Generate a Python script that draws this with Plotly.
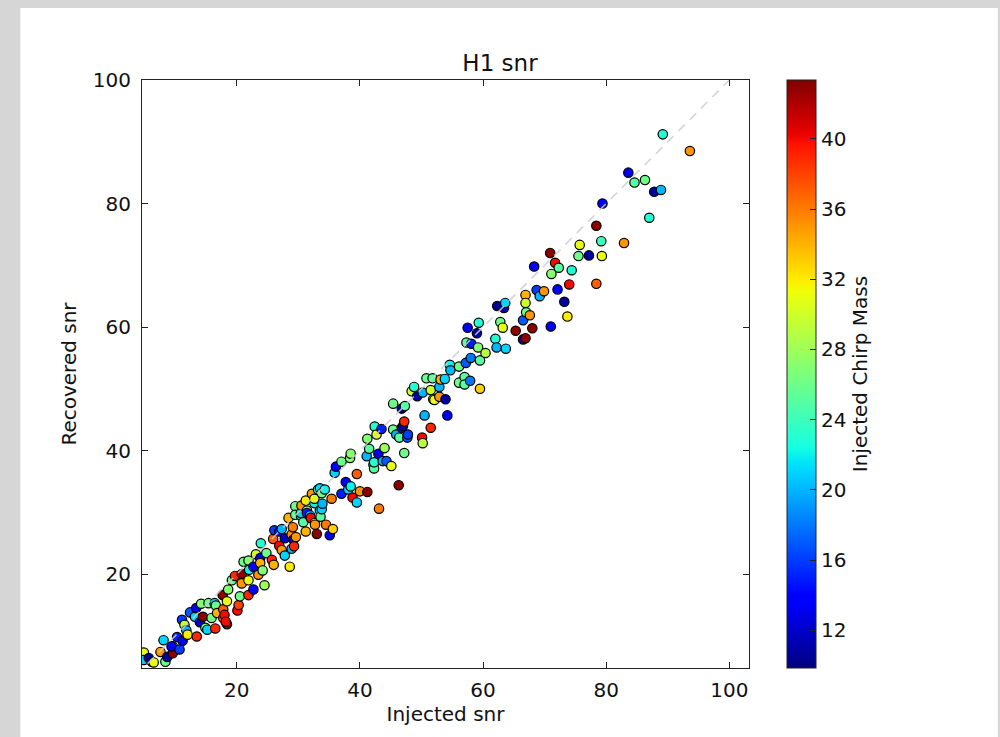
import numpy as np
import plotly.graph_objects as go

# ---- data ----
injected_snr = [
    4.9, 4.9, 5.7, 6.2, 6.5, 7.6, 8.1, 8.4, 8.7, 9.6, 9.6, 9.4, 10.3, 10.7, 11.2, 11.1, 11.5, 11.8, 12.0,
    12.4, 13.2, 13.4, 13.5, 14.0, 14.2, 14.5, 14.9, 15.2, 15.4, 15.9, 16.4, 16.5, 16.6, 16.8, 17.7, 17.8,
    17.8, 18.0, 18.4, 18.2, 18.4, 18.6, 19.2, 19.7, 20.1, 20.3, 20.5, 20.8, 20.8, 21.1, 21.9, 21.9, 21.9,
    22.0, 22.7, 22.7, 23.1, 23.5, 23.8, 23.8, 23.9, 24.2, 24.5, 24.8, 25.7, 25.9, 26.0, 26.1, 26.9, 26.9,
    27.3, 27.3, 27.8, 27.8, 28.4, 28.6, 28.9, 28.9, 29.1, 29.2, 29.3, 29.5, 29.5, 29.6, 30.4, 30.4, 30.5,
    30.8, 31.2, 31.2, 31.4, 31.4, 31.9, 32.0, 32.2, 32.6, 32.6, 32.7, 32.7, 33.0, 33.2, 33.5, 33.5, 33.6,
    33.8, 33.8, 33.9, 34.3, 34.5, 35.1, 35.4, 35.6, 35.9, 36.1, 37.0, 37.0, 37.7, 38.1, 38.4, 38.5, 38.5,
    38.8, 39.5, 39.5, 40.0, 41.1, 41.2, 41.2, 41.5, 42.2, 42.3, 42.3, 42.4, 42.7, 43.0, 43.1, 43.5, 43.7,
    44.0, 44.3, 45.1, 45.4, 45.4, 45.9, 46.3, 46.4, 46.8, 46.8, 47.0, 47.2, 47.2, 47.3, 47.7, 47.8, 48.4,
    48.8, 49.3, 50.1, 50.2, 50.2, 50.5, 50.8, 51.5, 51.5, 51.8, 51.9, 52.1, 52.9, 52.9, 53.1, 53.8, 53.9,
    54.2, 54.6, 54.7, 56.1, 56.1, 57.0, 57.0, 57.2, 57.3, 57.5, 57.9, 58.0, 58.1, 59.0, 59.2, 59.3, 59.5,
    59.5, 60.4, 62.0, 62.2, 62.3, 62.8, 63.2, 63.4, 63.6, 63.7, 65.3, 66.5, 66.5, 66.9, 66.9, 66.9, 67.0,
    67.6, 68.0, 68.3, 68.7, 69.2, 69.9, 70.9, 71.0, 71.1, 71.7, 72.1, 72.3, 73.2, 73.7, 74.0, 74.4, 75.5,
    75.7, 77.2, 78.4, 78.4, 79.2, 79.3, 79.4, 82.9, 83.6, 84.6, 86.3, 87.0, 87.8, 88.9, 89.2, 93.6,
]
recovered_snr = [
    7.3, 6.1, 6.4, 5.8, 5.7, 7.4, 9.3, 5.8, 6.6, 8.3, 7.2, 8.3, 9.8, 7.8, 9.2, 12.6, 11.8, 10.9, 10.2,
    13.8, 13.1, 14.5, 9.9, 12.2, 15.2, 13.1, 11.3, 11.0, 15.3, 12.9, 15.3, 11.2, 14.9, 13.7, 16.6, 14.3,
    12.9, 13.4, 11.9, 12.3, 15.6, 17.5, 19.0, 19.7, 14.1, 15.0, 16.4, 20.0, 18.5, 22.0, 22.2, 19.0, 16.6,
    20.7, 21.2, 17.5, 23.2, 19.9, 22.6, 21.8, 25.0, 20.6, 18.2, 23.4, 22.3, 25.7, 21.5, 27.1, 26.9, 24.6,
    23.9, 27.3, 25.8, 23.0, 29.1, 21.2, 24.1, 26.4, 27.6, 25.6, 24.5, 31.0, 29.6, 26.0, 29.5, 29.9, 31.1,
    28.4, 31.9, 26.9, 30.3, 29.9, 29.5, 29.1, 33.0, 31.5, 32.2, 28.3, 28.0, 26.5, 33.7, 33.9, 30.3, 29.3,
    30.5, 33.1, 31.4, 33.7, 28.0, 26.3, 32.2, 27.3, 36.4, 37.4, 38.2, 33.0, 34.9, 33.7, 38.8, 39.5, 34.2,
    32.4, 36.2, 31.6, 33.4, 39.1, 41.9, 33.3, 40.3, 37.7, 37.1, 38.1, 43.9, 42.6, 39.5, 30.6, 43.5, 38.3,
    40.4, 38.3, 37.5, 47.6, 43.4, 42.6, 34.4, 42.1, 46.8, 43.7, 44.0, 44.7, 39.6, 47.2, 42.1, 42.6, 49.6,
    50.3, 48.8, 42.1, 49.4, 41.2, 45.7, 51.7, 49.8, 43.7, 51.7, 48.3, 48.2, 50.3, 48.7, 51.5, 51.6, 48.3,
    45.7, 53.9, 53.0, 53.6, 51.0, 51.9, 50.7, 54.2, 57.5, 59.9, 51.3, 55.0, 57.3, 59.0, 56.7, 60.7, 54.6,
    50.0, 55.8, 58.1, 56.7, 63.4, 60.8, 59.9, 63.1, 63.9, 56.5, 59.4, 61.1, 58.0, 65.2, 63.9, 58.2, 62.4,
    61.9, 59.8, 69.8, 66.0, 65.0, 65.8, 72.0, 60.1, 68.6, 70.4, 66.1, 69.6, 64.1, 61.7, 66.9, 69.2, 71.5,
    73.3, 71.6, 76.4, 67.0, 73.9, 71.5, 80.0, 73.6, 85.0, 83.4, 83.8, 77.7, 81.9, 82.2, 91.2, 88.5,
]
chirp_mass = [
    31, 21, 11, 12, 31, 35, 21, 26, 11, 26, 43, 14, 15, 16, 14, 16, 29, 20, 32,
    17, 21, 14, 39, 12, 27, 43, 27, 21, 26, 26, 21, 39, 26, 34, 43, 37,
    37, 40, 43, 40, 31, 27, 26, 39, 40, 38, 26, 43, 35, 26, 27, 31, 39,
    22, 14, 14, 30, 35, 14, 34, 23, 27, 28, 26, 39, 37, 34, 16, 15, 40,
    35, 20, 12, 21, 34, 32, 20, 35, 36, 14, 39, 26, 26, 35, 21, 21, 35,
    25, 32, 34, 27, 15, 20, 40, 35, 22, 31, 33, 35, 43, 23, 21, 21, 25,
    21, 26, 20, 22, 36, 13, 36, 33, 21, 14, 26, 15, 14, 21, 27, 27, 22,
    40, 37, 21, 35, 20, 27, 43, 25, 23, 25, 23, 23, 31, 14, 36, 15, 20,
    28, 17, 31, 26, 26, 20, 43, 25, 11, 15, 11, 39, 26, 25, 17, 16, 30,
    23, 11, 40, 20, 29, 20, 26, 30, 39, 25, 27, 31, 20, 35, 34, 21, 11,
    14, 22, 20, 26, 26, 25, 25, 17, 25, 13, 18, 18, 15, 11, 27, 23, 25,
    33, 29, 23, 20, 11, 26, 31, 11, 21, 21, 43, 17, 11, 34, 30, 43, 26,
    35, 43, 14, 16, 20, 35, 43, 14, 27, 40, 14, 25, 11, 32, 40, 23, 26,
    31, 11, 43, 37, 24, 31, 14, 35, 14, 25, 26, 23, 11, 20, 23, 35,
]
diag_x = [0, 100]
diag_y = [0, 100]
axis_ticks = [20, 40, 60, 80, 100]
cbar_ticks = [12, 16, 20, 24, 28, 32, 36, 40]

# ---- matplotlib "jet" colormap as a plotly colorscale ----
R = [(0, 0), (0.35, 0), (0.66, 1), (0.89, 1), (1, 0.5)]
G = [(0, 0), (0.125, 0), (0.375, 1), (0.64, 1), (0.91, 0), (1, 0)]
B = [(0, 0.5), (0.11, 1), (0.34, 1), (0.65, 0), (1, 0)]
stops = sorted(set(p[0] for p in R + G + B))
def ch(pts, t):
    return float(np.interp(t, [p[0] for p in pts], [p[1] for p in pts]))
jet = [[t, "rgb(%d,%d,%d)" % (round(255 * ch(R, t)), round(255 * ch(G, t)), round(255 * ch(B, t)))] for t in stops]

FONT = "DejaVu Sans"
W, H = 1000, 737
L, Rm, T, Bm = 141.7, 1000 - 749, 80, 737 - 668
pw, ph = W - L - Rm, H - T - Bm

def px2paper_x(px):
    return (px - L) / pw
def px2paper_y(py):
    return (H - Bm - py) / ph

fig = go.Figure()
fig.add_trace(go.Scatter(
    x=injected_snr, y=recovered_snr, mode="markers",
    marker=dict(size=9.4, color=chirp_mass, colorscale=jet, cmin=9.85, cmax=43.35,
                line=dict(color="black", width=1.2),
                colorbar=dict(
                    x=px2paper_x(786.7), xanchor="left", xref="paper",
                    y=0.5, yanchor="middle", len=1, lenmode="fraction",
                    thickness=29, thicknessmode="pixels", xpad=0, ypad=0,
                    outlinecolor="#222", outlinewidth=1,
                    tickvals=cbar_ticks, ticks="inside", ticklen=6, tickcolor="#222",
                    tickfont=dict(family=FONT, size=20, color="#111"),
                    title=dict(text="Injected Chirp Mass", side="right",
                               font=dict(family=FONT, size=20, color="#111")),
                )),
    showlegend=False, hoverinfo="skip",
))
fig.add_trace(go.Scatter(
    x=diag_x, y=diag_y, mode="lines",
    line=dict(color="rgba(205,205,205,0.85)", width=1.6, dash="9px,7px"),
    showlegend=False, hoverinfo="skip",
))

axis_common = dict(
    showline=True, linecolor="#222", linewidth=1, mirror="ticks",
    ticks="inside", ticklen=6, tickcolor="#222", tickwidth=1,
    showgrid=False, zeroline=False, tickvals=axis_ticks,
    tickfont=dict(family=FONT, size=20, color="#111"),
)
fig.update_xaxes(range=[4.6, 103.2], ticklabelstandoff=4,
                 title=dict(text="Injected snr", font=dict(family=FONT, size=20, color="#111"), standoff=4),
                 **axis_common)
fig.update_yaxes(range=[4.8, 100], ticklabelstandoff=6,
                 title=dict(text="Recovered snr", font=dict(family=FONT, size=20, color="#111"), standoff=10),
                 **axis_common)

fig.update_layout(
    width=W, height=H,
    margin=dict(l=L, r=Rm, t=T, b=Bm, pad=0),
    paper_bgcolor="#d6d6d6", plot_bgcolor="white",
    title=dict(text="H1 snr", x=0.5, xanchor="center", y=1 - 63 / H, yanchor="middle",
               font=dict(family=FONT, size=23, color="#111")),
    shapes=[dict(type="rect", xref="paper", yref="paper", layer="below",
                 x0=px2paper_x(20), x1=px2paper_x(998), y0=px2paper_y(740), y1=px2paper_y(8),
                 fillcolor="white", line=dict(width=0))],
)
fig.write_html("out.html", config={"displayModeBar": False}, post_script=[
    "document.body.style.margin='0';document.body.style.padding='0';"
    "document.body.style.overflow='hidden';"
])
